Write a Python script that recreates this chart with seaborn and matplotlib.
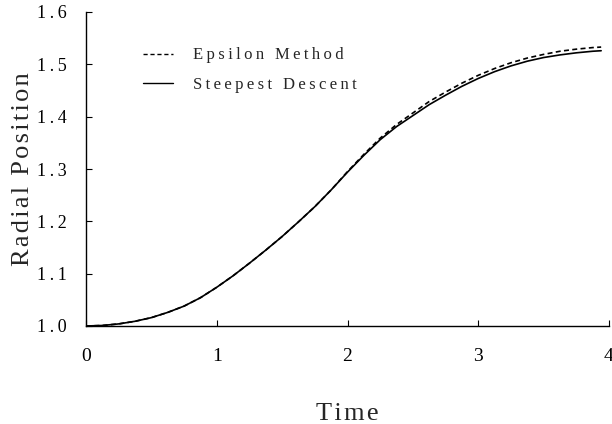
import numpy as np
import pandas as pd
import matplotlib
matplotlib.use("Agg")
import matplotlib.pyplot as plt
import seaborn as sns
from matplotlib.lines import Line2D

# ---- data ----
time = [0.0, 0.125, 0.25, 0.375, 0.5, 0.625, 0.75, 0.875, 1.0, 1.125, 1.25, 1.375,
        1.5, 1.625, 1.75, 1.875, 2.0, 2.125, 2.25, 2.375, 2.5, 2.625, 2.75, 2.875,
        3.0, 3.125, 3.25, 3.375, 3.5, 3.625, 3.75, 3.875, 3.94]
steepest = [1.000, 1.001, 1.004, 1.009, 1.016, 1.026, 1.038, 1.054, 1.074, 1.096, 1.120, 1.145,
            1.171, 1.199, 1.228, 1.260, 1.294, 1.326, 1.356, 1.381, 1.402, 1.423, 1.441, 1.458,
            1.473, 1.486, 1.497, 1.506, 1.513, 1.518, 1.522, 1.525, 1.526]
epsilon = [1.000, 1.001, 1.004, 1.009, 1.016, 1.026, 1.038, 1.054, 1.074, 1.096, 1.120, 1.145,
           1.171, 1.199, 1.228, 1.260, 1.295, 1.328, 1.359, 1.385, 1.407, 1.429, 1.447, 1.464,
           1.479, 1.492, 1.503, 1.512, 1.519, 1.525, 1.529, 1.532, 1.533]
series_names = ["Epsilon Method", "Steepest Descent"]
x_ticks = [0, 1, 2, 3, 4]
x_tick_labels = ["0", "1", "2", "3", "4"]
y_ticks = [1.0, 1.1, 1.2, 1.3, 1.4, 1.5, 1.6]
y_tick_labels = ["1.0", "1.1", "1.2", "1.3", "1.4", "1.5", "1.6"]
x_label = "Time"
y_label = "Radial Position"

df = pd.DataFrame({
    "t": time * 2,
    "r": epsilon + steepest,
    "method": [series_names[0]] * len(time) + [series_names[1]] * len(time),
})

sns.set_theme(style="ticks")
plt.rcParams["font.family"] = ["Liberation Serif", "DejaVu Serif"]

def spaced(s, sep="\u2009"):
    return sep.join(list(s))

def hair(s):
    return "\u200a".join(list(s))

fig = plt.figure(figsize=(6.12, 4.24), dpi=100)
ax = fig.add_axes([86 / 612, 1 - 326 / 424, (609 - 86) / 612, (326 - 12) / 424])

sns.lineplot(data=df, x="t", y="r", hue="method", style="method",
             palette={series_names[0]: "black", series_names[1]: "black"},
             dashes={series_names[0]: (3, 2), series_names[1]: ""},
             linewidth=1.2, ax=ax, legend=False, sort=False)
for ln in ax.lines:
    ln.set_solid_joinstyle("round")
    ln.set_dash_joinstyle("round")

ax.set_xlim(0, 4)
ax.set_ylim(1.0, 1.6)
ax.set_xticks(x_ticks)
ax.set_xticklabels(x_tick_labels, fontsize=14)
ax.set_yticks(y_ticks)
ax.set_yticklabels([spaced(s) for s in y_tick_labels], fontsize=13)
ax.tick_params(direction="in", length=4, width=0.8, colors="black")
ax.tick_params(axis="y", pad=14)
ax.tick_params(axis="x", pad=16)
for s in ["top", "right"]:
    ax.spines[s].set_visible(False)
for s in ["left", "bottom"]:
    ax.spines[s].set_color("black")
    ax.spines[s].set_linewidth(1.0)

ax.set_xlabel(hair(x_label), fontsize=19)
ax.set_ylabel(hair(y_label), fontsize=19)
ax.xaxis.label.set_va("baseline")
ax.xaxis.set_label_coords(0.5, (326 - 420) / 314)
ax.yaxis.set_label_coords((34 - 86) / 523, 0.5)

handles = [Line2D([], [], color="black", lw=1.0, dashes=(3, 2)),
           Line2D([], [], color="black", lw=1.0)]
ax.legend(handles, [spaced(n) for n in series_names], loc="upper left",
          bbox_to_anchor=(0.08, 0.935), frameon=False, fontsize=12,
          handlelength=1.8, handletextpad=1.2, labelspacing=0.8)

fig.savefig("out.png", dpi=100)
